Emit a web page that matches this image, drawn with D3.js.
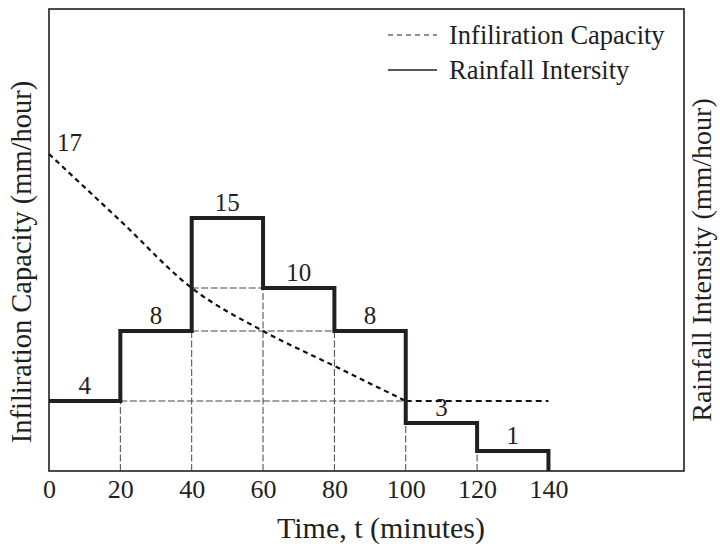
<!DOCTYPE html>
<html><head><meta charset="utf-8">
<script src="https://cdn.jsdelivr.net/npm/d3@7"></script>
<style>body{margin:0;background:#fff}svg{display:block}text{font-family:"Liberation Serif","Times New Roman",serif;fill:#231f20}</style>
</head><body><svg id="c" width="720" height="546"></svg>
<script>
// Data
const stepTimes = [0, 20, 40, 60, 80, 100, 120, 140];
const rainIntensity = [4, 8, 15, 10, 8, 3, 1];
const infilTimes = [0, 20, 40, 60, 80, 100];
const infilValues = [17, 14.8, 10, 8, 6, 4];
const infilTailTimes = [100, 140];
const infilTailValues = [4, 4];
const xTicks = [0, 20, 40, 60, 80, 100, 120, 140];
const guideLevels = [4, 8, 10];
const guideFrom = [20, 40, 40];
const guideTo = [100, 80, 60];
// schematic (non-linear) value axis of the original figure
const yDomain = [0, 1, 3, 4, 8, 10, 15, 17];

const svg = d3.select("#c");
const L = 49, R = 684, T = 9, B = 471;
const x = d3.scaleLinear().domain([0, 178]).range([L, R]);
const y = d3.scaleLinear().domain(yDomain).range([471, 451, 423, 401, 331, 288, 218, 154]);
const ink = "#231f20";

// frame
svg.append("rect").attr("x", L).attr("y", T).attr("width", R - L).attr("height", B - T)
  .attr("fill", "none").attr("stroke", ink).attr("stroke-width", 1.6);

// vertical guide lines at step boundaries
const vGuides = stepTimes.slice(1, -1).map((t, i) => ({t, v: Math.min(rainIntensity[i], rainIntensity[i + 1])}));
svg.append("g").selectAll("line").data(vGuides).join("line")
  .attr("x1", d => x(d.t)).attr("x2", d => x(d.t))
  .attr("y1", y(0)).attr("y2", d => y(d.v))
  .attr("stroke", "#444").attr("stroke-width", 1).attr("stroke-dasharray", "7,2.5");

// horizontal guide lines
svg.append("g").selectAll("line").data(guideLevels).join("line")
  .attr("x1", (d, i) => x(guideFrom[i])).attr("x2", (d, i) => x(guideTo[i]))
  .attr("y1", d => y(d)).attr("y2", d => y(d))
  .attr("stroke", "#444").attr("stroke-width", 1).attr("stroke-dasharray", "7,2.5");

// infiltration curve
const infil = infilTimes.map((t, i) => [t, infilValues[i]]);
const tail = infilTailTimes.map((t, i) => [t, infilTailValues[i]]);
svg.append("path").datum(infil)
  .attr("d", d3.line().x(d => x(d[0])).y(d => y(d[1])).curve(d3.curveMonotoneX))
  .attr("fill", "none").attr("stroke", "#111").attr("stroke-width", 2.2).attr("stroke-dasharray", "5,4");
svg.append("path").datum(tail)
  .attr("d", d3.line().x(d => x(d[0])).y(d => y(d[1])))
  .attr("fill", "none").attr("stroke", "#111").attr("stroke-width", 2).attr("stroke-dasharray", "6,4");

// rainfall steps
const steps = [];
rainIntensity.forEach((v, i) => { steps.push([stepTimes[i], v]); steps.push([stepTimes[i + 1], v]); });
steps.push([stepTimes[stepTimes.length - 1], 0]);
svg.append("path").datum(steps)
  .attr("d", d3.line().x(d => x(d[0])).y(d => y(d[1])))
  .attr("fill", "none").attr("stroke", ink).attr("stroke-width", 4).attr("stroke-linejoin", "miter");

// step labels
svg.append("g").selectAll("text").data(rainIntensity).join("text")
  .attr("x", (d, i) => x((stepTimes[i] + stepTimes[i + 1]) / 2))
  .attr("y", d => y(d) - 7)
  .attr("text-anchor", "middle").attr("font-size", 25).text(d => d);

// initial infiltration label
svg.append("text").attr("x", x(0) + 8).attr("y", y(infilValues[0]) - 3)
  .attr("font-size", 25).text(infilValues[0]);

// x axis labels
const xAxis = d3.axisBottom(x).tickValues(xTicks).tickSize(0).tickPadding(9);
const gx = svg.append("g").attr("transform", `translate(0,${B})`).call(xAxis);
gx.select(".domain").remove();
gx.selectAll("text").attr("font-size", 26).attr("font-family", "Liberation Serif").attr("fill", ink);

// axis titles
svg.append("text").attr("x", 381).attr("y", 538).attr("text-anchor", "middle").attr("font-size", 30)
  .text("Time, t (minutes)");
svg.append("text").attr("transform", "translate(31,262) rotate(-90)").attr("text-anchor", "middle")
  .attr("font-size", 28.5).text("Infiliration Capacity (mm/hour)");
svg.append("text").attr("transform", "translate(711,260) rotate(-90)").attr("text-anchor", "middle")
  .attr("font-size", 28).text("Rainfall Intensity (mm/hour)");

// legend
const lg = svg.append("g");
lg.append("line").attr("x1", 388).attr("x2", 437).attr("y1", 35).attr("y2", 35)
  .attr("stroke", ink).attr("stroke-width", 1.2).attr("stroke-dasharray", "5,4");
lg.append("line").attr("x1", 388).attr("x2", 437).attr("y1", 70).attr("y2", 70)
  .attr("stroke", ink).attr("stroke-width", 1.4);
lg.append("text").attr("x", 449).attr("y", 44).attr("font-size", 26.5).text("Infiliration Capacity");
lg.append("text").attr("x", 449).attr("y", 79).attr("font-size", 26.5).text("Rainfall Intersity");
</script></body></html>
